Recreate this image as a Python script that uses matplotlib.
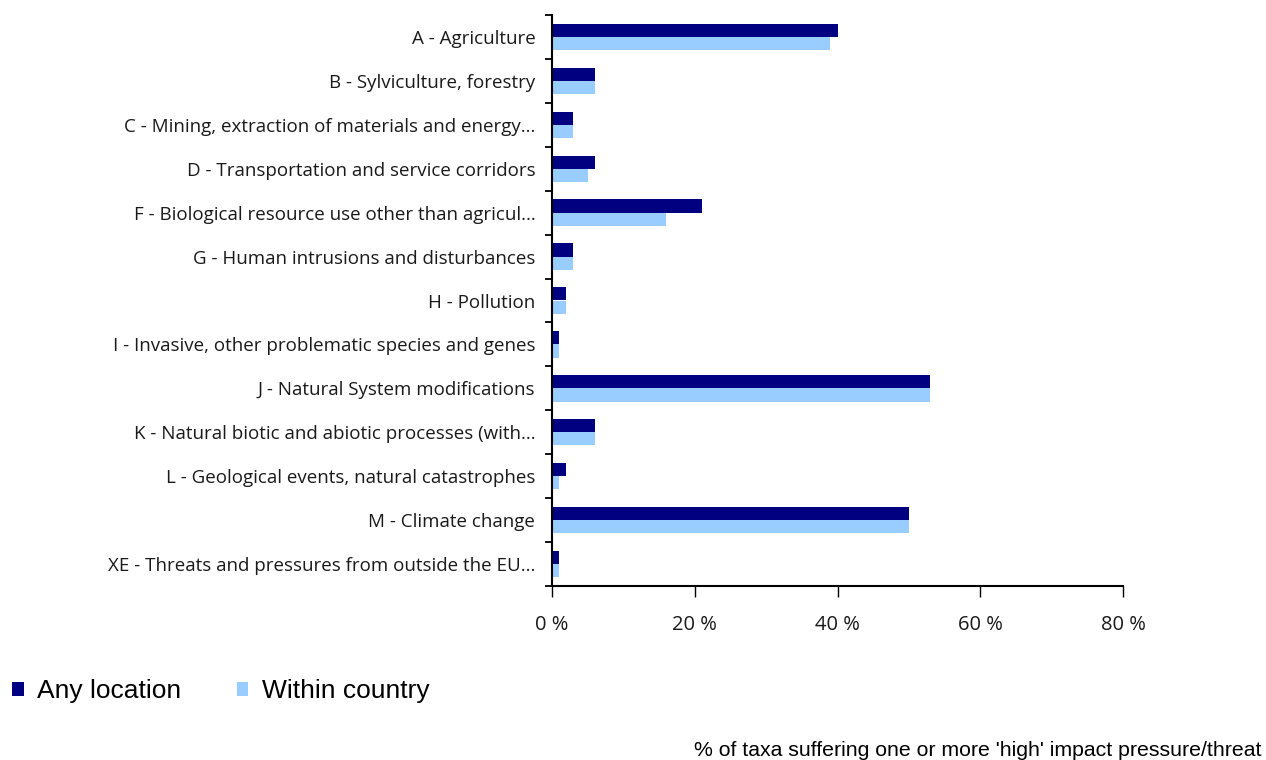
import numpy as np
import matplotlib.pyplot as plt

# pressure/threat categories, top to bottom
categories = [
    "A - Agriculture",
    "B - Sylviculture, forestry",
    "C - Mining, extraction of materials and energy...",
    "D - Transportation and service corridors",
    "F - Biological resource use other than agricul...",
    "G - Human intrusions and disturbances",
    "H - Pollution",
    "I - Invasive, other problematic species and genes",
    "J - Natural System modifications",
    "K - Natural biotic and abiotic processes (with...",
    "L - Geological events, natural catastrophes",
    "M - Climate change",
    "XE - Threats and pressures from outside the EU...",
]
any_location = [40, 6, 3, 6, 21, 3, 2, 1, 53, 6, 2, 50, 1]
within_country = [39, 6, 3, 5, 16, 3, 2, 1, 53, 6, 1, 50, 1]
xticks = [0, 20, 40, 60, 80]
xtick_labels = ["0 %", "20 %", "40 %", "60 %", "80 %"]

dark = "#000080"
light = "#99ccff"

fig = plt.figure(figsize=(12.66, 7.6), dpi=100)
ax = fig.add_axes([552 / 1266, 1 - 586 / 760, (1123 - 552) / 1266, (586 - 15) / 760])

n = len(categories)
y = np.arange(n)
h = 0.3
ax.barh(y - h / 2, any_location, height=h, color=dark, label="Any location")
ax.barh(y + h / 2, within_country, height=h, color=light, label="Within country")

ax.set_ylim(n - 0.5, -0.5)
ax.set_xlim(0, 80)

# category labels centred, tick marks on the boundaries
ax.set_yticks(y)
ax.set_yticklabels(categories, fontfamily="Open Sans", fontsize=13.5, color="#1a1a1a")
ax.tick_params(axis="y", which="major", length=0, pad=12)
ax.set_yticks(np.arange(n + 1) - 0.5, minor=True)
ax.tick_params(axis="y", which="minor", length=5, width=1.3, direction="out")

ax.set_xticks(xticks)
ax.set_xticklabels(xtick_labels, fontfamily="Open Sans", fontsize=14.5, color="#1a1a1a")
ax.tick_params(axis="x", length=8, width=1, pad=13)

for s in ["top", "right"]:
    ax.spines[s].set_visible(False)
ax.spines["left"].set_linewidth(1.5)
ax.spines["bottom"].set_linewidth(1.5)

fig.legend(loc="center left", bbox_to_anchor=(12 / 1266, 1 - 691 / 760), ncol=2,
           frameon=False, prop={"family": "Liberation Sans", "size": 19},
           borderpad=0, borderaxespad=0,
           handlelength=0.45, handleheight=0.45, handletextpad=0.5, columnspacing=2.1)

fig.text(1262 / 1266, 1 - 750 / 760, "% of taxa suffering one or more 'high' impact pressure/threat",
         ha="right", va="center", fontfamily="Liberation Sans", fontsize=15.3)

fig.savefig("out.png", dpi=100)
